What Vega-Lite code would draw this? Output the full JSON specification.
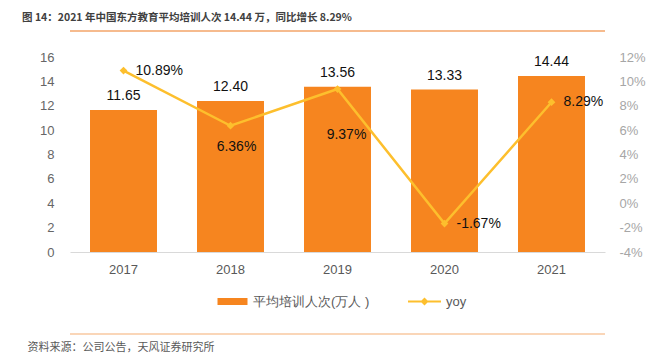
{
  "$schema": "https://vega.github.io/schema/vega-lite/v6.json",
  "autosize": "none",
  "width": 535,
  "height": 195,
  "padding": {"left": 70, "top": 57, "right": 47, "bottom": 104},
  "config": {
    "view": {"stroke": null},
    "font": "Liberation Sans",
    "axis": {"grid": false, "ticks": false, "labelFont": "Liberation Sans", "labelOverlap": false},
    "legend": {"padding": 0}
  },
  "title": {
    "text": "图 14：2021 年中国东方教育平均培训人次 14.44 万，同比增长 8.29%",
    "anchor": "start",
    "frame": "group",
    "dx": -48,
    "offset": 7,
    "font": "Noto Sans CJK SC",
    "fontSize": 10.5,
    "fontWeight": "bold",
    "color": "#404040"
  },
  "data": {
    "values": [
      {"year": "2017", "value": 11.65, "yoy": 0.1089},
      {"year": "2018", "value": 12.40, "yoy": 0.0636},
      {"year": "2019", "value": 13.56, "yoy": 0.0937},
      {"year": "2020", "value": 13.33, "yoy": -0.0167},
      {"year": "2021", "value": 14.44, "yoy": 0.0829}
    ]
  },
  "layer": [
    {
      "resolve": {"scale": {"y": "shared"}, "axis": {"y": "shared"}},
      "encoding": {
        "y": {
          "type": "quantitative",
          "scale": {"domain": [0, 16], "nice": false},
          "axis": {
            "values": [0, 2, 4, 6, 8, 10, 12, 14, 16],
            "labelOverlap": false,
            "domain": false,
            "labelFontSize": 13,
            "labelColor": "#666666",
            "labelPadding": 16,
            "title": null
          }
        }
      },
      "layer": [
        {
          "mark": {"type": "bar", "color": "#F6851F"},
          "encoding": {
            "x": {
              "field": "year",
              "type": "ordinal",
              "scale": {"paddingInner": 0.374, "paddingOuter": 0.187},
              "axis": {
                "labelAngle": 0,
                "labelFontSize": 13,
                "labelColor": "#595959",
                "labelPadding": 11,
                "domainColor": "#D9D9D9",
                "domainWidth": 1,
                "title": "资料来源：公司公告，天风证券研究所",
                "titleFont": "Noto Sans CJK SC",
                "titleFontSize": 11,
                "titleFontWeight": "normal",
                "titleColor": "#595959",
                "titleAnchor": "start",
                "titleAlign": "left",
                "titleBaseline": "middle",
                "titleX": -43,
                "titleY": 95
              }
            },
            "y": {"field": "value"},
            "fill": {
              "datum": "平均培训人次(万人 )",
              "type": "nominal",
              "scale": {"range": ["#F6851F"]},
              "legend": {
                "title": null,
                "orient": "none",
                "legendX": 156,
                "legendY": 238,
                "symbolType": "M-3,-0.7H3V0.7H-3Z",
                "symbolSize": 100,
                "symbolStrokeWidth": 0,
                "labelFontSize": 13,
                "labelColor": "#595959",
                "labelOffset": 14
              }
            }
          }
        },
        {
          "mark": {"type": "text", "baseline": "bottom", "dy": -7, "fontSize": 14, "color": "#111111"},
          "encoding": {
            "x": {"field": "year", "type": "ordinal"},
            "y": {"field": "value"},
            "text": {"field": "value", "type": "quantitative", "format": ".2f"}
          }
        },
        {
          "data": {"values": [{"line": "title"}]},
          "mark": {"type": "rule", "color": "#F3A469", "strokeWidth": 1.5},
          "encoding": {"y": {"datum": 18.133}, "x": {"value": 0}, "x2": {"value": "width"}}
        },
        {
          "data": {"values": [{"line": "footer"}]},
          "mark": {"type": "rule", "color": "#F9C9A0", "strokeWidth": 1.5},
          "encoding": {"y": {"datum": -6.728}, "x": {"value": 0}, "x2": {"value": "width"}}
        }
      ]
    },
    {
      "resolve": {"scale": {"y": "shared"}, "axis": {"y": "shared"}},
      "transform": [
        {"calculate": "replace(format(datum.yoy, '.2%'), '\u2212', '-')", "as": "yoyLabel"}
      ],
      "encoding": {
        "x": {"field": "year", "type": "ordinal"},
        "y": {
          "field": "yoy",
          "type": "quantitative",
          "scale": {"domain": [-0.04, 0.12], "nice": false},
          "axis": {
            "orient": "right",
            "values": [-0.04, -0.02, 0, 0.02, 0.04, 0.06, 0.08, 0.1, 0.12],
            "format": ".0%",
            "labelExpr": "replace(datum.label, '\u2212', '-')",
            "labelOverlap": false,
            "domain": false,
            "labelFontSize": 13,
            "labelColor": "#A6A6A6",
            "labelPadding": 14,
            "title": null
          }
        }
      },
      "layer": [
        {
          "mark": {"type": "line", "color": "#FDBF2D", "strokeWidth": 2.5},
          "encoding": {}
        },
        {
          "mark": {"type": "point", "shape": "diamond", "filled": true, "size": 60, "opacity": 1},
          "encoding": {
            "fill": {
              "datum": "yoy",
              "type": "nominal",
              "scale": {"range": ["#FDBF2D"]},
              "legend": {
                "title": null,
                "orient": "none",
                "legendX": 348,
                "legendY": 238,
                "symbolType": "M-3.3,-0.2H3.3V0.2H-3.3Z M0,-0.8L0.8,0L0,0.8L-0.8,0Z",
                "symbolSize": 100,
                "symbolStrokeWidth": 0,
                "labelFontSize": 13,
                "labelColor": "#595959",
                "labelOffset": 15
              }
            }
          }
        },
        {
          "transform": [{"filter": "datum.year == '2017' || datum.year == '2020' || datum.year == '2021'"}],
          "mark": {"type": "text", "align": "left", "baseline": "middle", "dx": 12, "fontSize": 14, "color": "#111111"},
          "encoding": {"text": {"field": "yoyLabel", "type": "nominal"}}
        },
        {
          "transform": [{"filter": "datum.year == '2018'"}],
          "mark": {"type": "text", "align": "center", "baseline": "middle", "dx": 6, "dy": 21, "fontSize": 14, "color": "#111111"},
          "encoding": {"text": {"field": "yoyLabel", "type": "nominal"}}
        },
        {
          "transform": [{"filter": "datum.year == '2019'"}],
          "mark": {"type": "text", "align": "center", "baseline": "middle", "dx": 9, "dy": 46, "fontSize": 14, "color": "#111111"},
          "encoding": {"text": {"field": "yoyLabel", "type": "nominal"}}
        }
      ]
    }
  ],
  "resolve": {"scale": {"y": "independent", "fill": "independent"}, "legend": {"fill": "independent"}}
}
